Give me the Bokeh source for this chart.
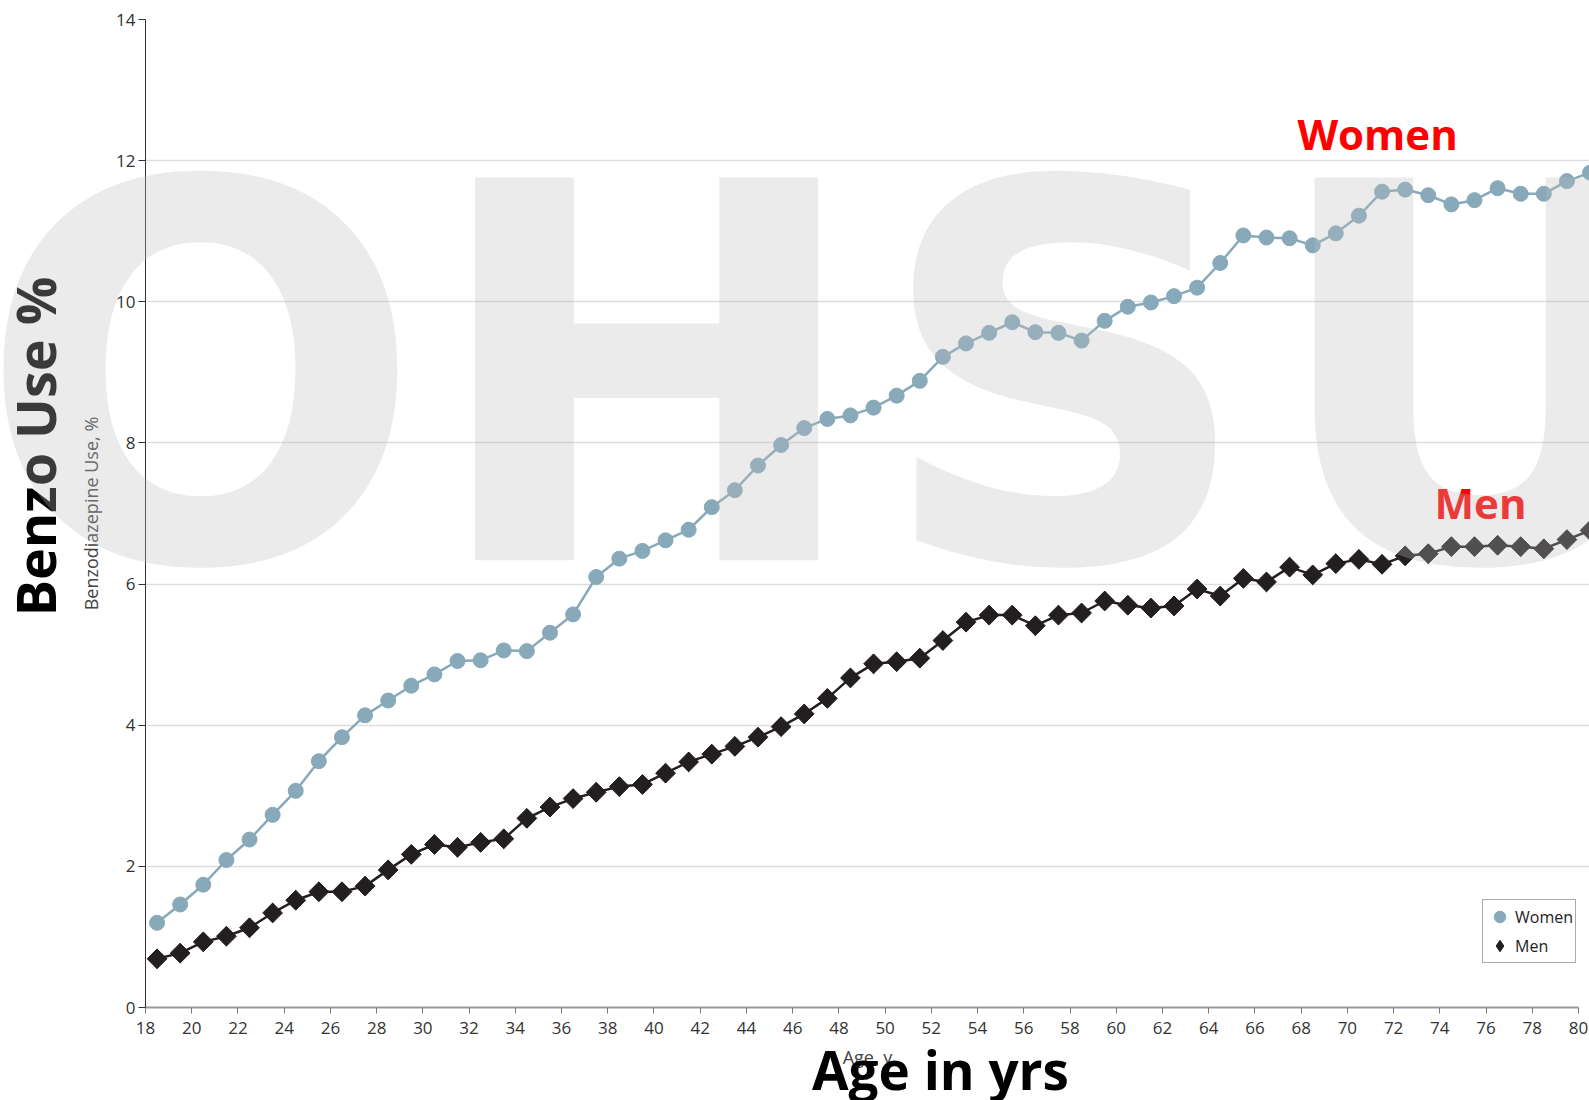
import math
from bokeh.plotting import figure
from bokeh.layouts import column
from bokeh.models import Label, Legend, LegendItem, FixedTicker
from bokeh.embed import file_html
from bokeh.resources import INLINE

# ---------------- data ----------------
ages = [18.5, 19.5, 20.5, 21.5, 22.5, 23.5, 24.5, 25.5, 26.5, 27.5,
        28.5, 29.5, 30.5, 31.5, 32.5, 33.5, 34.5, 35.5, 36.5, 37.5,
        38.5, 39.5, 40.5, 41.5, 42.5, 43.5, 44.5, 45.5, 46.5, 47.5,
        48.5, 49.5, 50.5, 51.5, 52.5, 53.5, 54.5, 55.5, 56.5, 57.5,
        58.5, 59.5, 60.5, 61.5, 62.5, 63.5, 64.5, 65.5, 66.5, 67.5,
        68.5, 69.5, 70.5, 71.5, 72.5, 73.5, 74.5, 75.5, 76.5, 77.5,
        78.5, 79.5, 80.5]

women = [1.20, 1.46, 1.74, 2.09, 2.38, 2.73, 3.07, 3.49, 3.83, 4.14,
         4.35, 4.56, 4.72, 4.91, 4.92, 5.06, 5.05, 5.31, 5.57, 6.10,
         6.36, 6.47, 6.62, 6.77, 7.09, 7.33, 7.68, 7.97, 8.21, 8.34,
         8.39, 8.50, 8.67, 8.88, 9.22, 9.41, 9.56, 9.71, 9.57, 9.56,
         9.45, 9.73, 9.93, 9.99, 10.08, 10.20, 10.55, 10.94, 10.91, 10.90,
         10.80, 10.97, 11.22, 11.56, 11.59, 11.51, 11.38, 11.44, 11.61, 11.53,
         11.53, 11.71, 11.83]

men = [0.69, 0.77, 0.93, 1.01, 1.13, 1.34, 1.52, 1.64, 1.64, 1.72,
       1.95, 2.17, 2.31, 2.27, 2.34, 2.39, 2.68, 2.84, 2.96, 3.05,
       3.13, 3.16, 3.32, 3.48, 3.59, 3.70, 3.83, 3.98, 4.16, 4.38,
       4.67, 4.87, 4.90, 4.95, 5.20, 5.46, 5.56, 5.56, 5.41, 5.56,
       5.59, 5.76, 5.70, 5.66, 5.69, 5.93, 5.83, 6.08, 6.03, 6.24,
       6.13, 6.29, 6.35, 6.28, 6.40, 6.43, 6.53, 6.53, 6.55, 6.53,
       6.50, 6.63, 6.76]

x_ticks = [18, 20, 22, 24, 26, 28, 30, 32, 34, 36, 38, 40, 42, 44, 46,
           48, 50, 52, 54, 56, 58, 60, 62, 64, 66, 68, 70, 72, 74, 76, 78, 80]
y_ticks = [0, 2, 4, 6, 8, 10, 12, 14]
series_names = ["Women", "Men"]
watermark_letters = ["O", "H", "S", "U"]

# ---------------- layout / styles ----------------
W, H = 1589, 1100
BL, BR, BT, BB = 145, 0, 19, 93          # frame borders in px
X0, X1 = 18, 80.476
Y0, Y1 = 0, 14
XS = (W - BL - BR) / (X1 - X0)           # px per year
YS = (H - BT - BB) / (Y1 - Y0)           # px per percent

WOMEN_C = "#87a9b9"
MEN_C = "#231f20"
RED = "#ff0000"
FONT = "Open Sans"

p = figure(width=W, height=H, x_range=(X0, X1), y_range=(Y0, Y1),
           output_backend="svg", toolbar_location=None,
           min_border_left=BL, min_border_right=BR,
           min_border_top=BT, min_border_bottom=BB)
p.outline_line_color = None
p.background_fill_color = "white"
p.border_fill_color = "white"

# axes
p.xaxis.ticker = FixedTicker(ticks=x_ticks)
p.yaxis.ticker = FixedTicker(ticks=y_ticks)
p.xaxis.bounds = (18, 80)
for ax in (p.xaxis, p.yaxis):
    ax.minor_tick_line_color = None
    ax.major_tick_in = 0
    ax.major_label_text_font = FONT
    ax.major_label_text_font_size = "17px"
    ax.major_label_text_color = "#333333"
    ax.axis_label_text_font = FONT
    ax.axis_label_text_font_size = "18px"
    ax.axis_label_text_font_style = "normal"
    ax.axis_label_text_color = "#444444"

p.xaxis.axis_line_color = "#9a9a9a"
p.xaxis.axis_line_width = 2
p.xaxis.major_tick_line_color = "#777777"
p.xaxis.major_tick_out = 6
p.xaxis.major_label_standoff = 8
p.xaxis.axis_label = "Age, y"
p.xaxis.axis_label_standoff = 8

p.yaxis.axis_line_color = "#333333"
p.yaxis.major_tick_line_color = "#333333"
p.yaxis.major_tick_out = 7
p.yaxis.major_label_standoff = 3
p.yaxis.axis_label = "Benzodiazepine Use, %"
p.yaxis.axis_label_standoff = 10

p.xgrid.visible = False
p.ygrid.grid_line_color = "#dddddd"
p.ygrid.grid_line_width = 1.5

# series
p.line(ages, women, line_color=WOMEN_C, line_width=2.5)
w_sc = p.scatter(ages, women, marker="circle", size=15,
                 fill_color=WOMEN_C, line_color=WOMEN_C)
p.line(ages, men, line_color=MEN_C, line_width=2.5)
# narrow diamonds (used for the legend swatch), covered by the rotated squares
m_leg = p.scatter(ages, men, marker="diamond", size=19,
                  fill_color=MEN_C, line_color=MEN_C)
p.scatter(ages, men, marker="square", size=14, angle=math.pi / 4,
          fill_color=MEN_C, line_color=MEN_C)

legend = Legend(items=[LegendItem(label=series_names[0], renderers=[w_sc]),
                       LegendItem(label=series_names[1], renderers=[m_leg])],
                location=(1337, 44), orientation="vertical")
legend.border_line_color = "#555555"
legend.border_line_width = 1
legend.background_fill_color = "white"
legend.background_fill_alpha = 1
legend.label_text_font = FONT
legend.label_text_font_size = "16px"
legend.label_text_color = "#222222"
legend.glyph_width = 29
legend.glyph_height = 29
legend.label_height = 28
legend.label_standoff = 1
legend.padding = 2
legend.spacing = 0
legend.margin = 0
p.add_layout(legend, "center")

# Label anchors: the rendered baseline sits ~0.39 em below the anchor
def base_shift(size_px):
    return 0.39 * size_px

# in-frame red labels
p.add_layout(Label(x=X0 + (1297 - BL) / XS, y=(H - BB - (149 - base_shift(42))) / YS,
                   text="Women", text_font=FONT,
                   text_font_style="bold", text_font_size="42px",
                   text_color=RED, text_align="left", text_baseline="alphabetic"))
p.add_layout(Label(x=X0 + (1434 - BL) / XS, y=(H - BB - (518 - base_shift(42))) / YS,
                   text="Men", text_font=FONT,
                   text_font_style="bold", text_font_size="42px",
                   text_color=RED, text_align="left", text_baseline="alphabetic"))

# ---------------- transparent overlay figure (big titles + watermark) ----------------
q = figure(width=W, height=H,
           x_range=(X0 - BL / XS, X1 + BR / XS),
           y_range=(Y0 - BB / YS, Y1 + BT / YS),
           x_axis_type=None, y_axis_type=None,
           output_backend="svg", toolbar_location=None,
           min_border=0, min_border_left=0, min_border_right=0,
           min_border_top=0, min_border_bottom=0,
           margin=(-H, 0, 0, 0))
q.outline_line_color = None
q.background_fill_alpha = 0
q.border_fill_alpha = 0

for fig in (p, q):
    if "frame_align" in fig.properties():
        fig.frame_align = False

q.add_layout(Label(x=X0 + (940 - BL) / XS, y=(H - BB - (1090 - base_shift(53))) / YS,
                   text="Age in yrs", text_font=FONT,
                   text_font_style="bold", text_font_size="53px",
                   text_color="#000000", text_align="center", text_baseline="alphabetic"))
q.add_layout(Label(x=X0 + (56 - base_shift(54) - BL) / XS, y=(H - BB - 446) / YS,
                   text="Benzo Use %", text_font=FONT,
                   text_font_style="bold", text_font_size="54px", angle=math.pi / 2,
                   text_color="#000000", text_align="center", text_baseline="alphabetic"))

wm_centers = [200, 646, 1064, 1479]     # px centres of the watermark letters
WM_SIZE = 525
for letter, cx in zip(watermark_letters, wm_centers):
    q.add_layout(Label(x=X0 + (cx - BL) / XS, y=(H - BB - (560 - 0.346 * WM_SIZE)) / YS,
                       text=letter, text_font="DejaVu Sans",
                       text_font_style="bold", text_font_size=f"{WM_SIZE}px",
                       text_color="#bebebe", text_alpha=0.306,
                       text_align="center", text_baseline="alphabetic"))

layout = column(p, q, spacing=0)
open("out.html", "w").write(file_html(layout, INLINE))
